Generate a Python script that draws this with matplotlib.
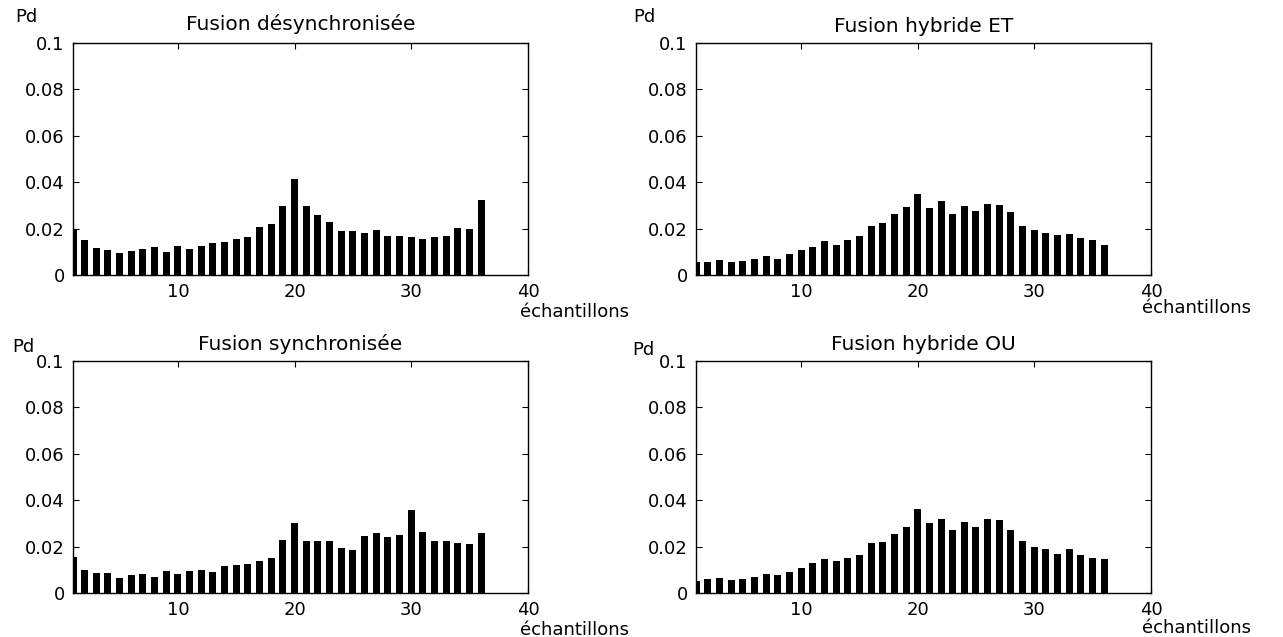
import matplotlib.pyplot as plt
import numpy as np

# échantillons 1..36
samples = np.arange(1, 37)

# Fusion désynchronisée
pd_desync = [0.0200, 0.0150, 0.0117, 0.0107, 0.0096, 0.0103, 0.0113, 0.0120, 0.0099,
             0.0126, 0.0114, 0.0124, 0.0137, 0.0141, 0.0153, 0.0163, 0.0206, 0.0219,
             0.0296, 0.0414, 0.0296, 0.0257, 0.0230, 0.0190, 0.0189, 0.0180, 0.0194,
             0.0167, 0.0167, 0.0164, 0.0154, 0.0163, 0.0167, 0.0203, 0.0199, 0.0323]

# Fusion hybride ET
pd_et = [0.0056, 0.0056, 0.0064, 0.0056, 0.0060, 0.0071, 0.0080, 0.0070, 0.0090,
         0.0107, 0.0120, 0.0146, 0.0130, 0.0151, 0.0169, 0.0213, 0.0223, 0.0263,
         0.0294, 0.0347, 0.0290, 0.0321, 0.0263, 0.0296, 0.0274, 0.0304, 0.0300,
         0.0273, 0.0213, 0.0196, 0.0180, 0.0171, 0.0176, 0.0159, 0.0150, 0.0131]

# Fusion synchronisée
pd_sync = [0.0153, 0.0100, 0.0086, 0.0084, 0.0064, 0.0076, 0.0081, 0.0071, 0.0096,
           0.0081, 0.0096, 0.0101, 0.0090, 0.0116, 0.0119, 0.0124, 0.0139, 0.0151,
           0.0229, 0.0303, 0.0226, 0.0226, 0.0226, 0.0193, 0.0187, 0.0246, 0.0257,
           0.0241, 0.0251, 0.0356, 0.0264, 0.0223, 0.0224, 0.0214, 0.0213, 0.0260]

# Fusion hybride OU
pd_ou = [0.0053, 0.0060, 0.0064, 0.0054, 0.0060, 0.0067, 0.0083, 0.0077, 0.0089,
         0.0107, 0.0130, 0.0146, 0.0137, 0.0150, 0.0163, 0.0217, 0.0219, 0.0254,
         0.0286, 0.0360, 0.0301, 0.0320, 0.0270, 0.0306, 0.0286, 0.0321, 0.0316,
         0.0273, 0.0226, 0.0200, 0.0189, 0.0169, 0.0189, 0.0164, 0.0150, 0.0147]

titles = ['Fusion désynchronisée', 'Fusion hybride ET',
          'Fusion synchronisée', 'Fusion hybride OU']
series = [pd_desync, pd_et, pd_sync, pd_ou]
y_ticks = [0, 0.02, 0.04, 0.06, 0.08, 0.1]
y_tick_labels = ['0', '0.02', '0.04', '0.06', '0.08', '0.1']
x_ticks = [10, 20, 30, 40]

plt.rcParams['font.family'] = 'DejaVu Sans'

fig = plt.figure(figsize=(12.83, 6.37), dpi=100)
fig.patch.set_facecolor('white')

# positions (left, bottom) des 4 axes, en fraction de figure
lefts = [0.0569, 0.5425, 0.0569, 0.5425]
bottoms = [0.5683, 0.5683, 0.0691, 0.0691]
w, h = 0.3546, 0.3642

# position des textes (coordonnées axes)
pd_pos = [(-0.103, 1.112), (-0.114, 1.112), (-0.11, 1.06), (-0.115, 1.047)]
title_y = [1.082, 1.073, 1.073, 1.073]
xlab_pos = [(1.103, -0.16), (1.10, -0.142), (1.103, -0.16), (1.10, -0.15)]

for i in range(4):
    ax = fig.add_axes([lefts[i], bottoms[i], w, h])
    ax.bar(samples, series[i], width=0.6, color='black', edgecolor='none')
    ax.set_xlim(1, 40)
    ax.set_ylim(0, 0.1)
    ax.set_xticks(x_ticks)
    ax.set_yticks(y_ticks)
    ax.set_yticklabels(y_tick_labels)
    ax.tick_params(direction='in', length=4, width=0.8, top=True, right=True,
                   labelsize=13, pad=6)
    for s in ax.spines.values():
        s.set_linewidth(1.0)
        s.set_color('black')
    ax.text(0.5, title_y[i], titles[i], transform=ax.transAxes,
            ha='center', va='center', fontsize=14.5)
    ax.text(pd_pos[i][0], pd_pos[i][1], 'Pd', transform=ax.transAxes,
            ha='center', va='center', fontsize=13)
    ax.text(xlab_pos[i][0], xlab_pos[i][1], 'échantillons', transform=ax.transAxes,
            ha='center', va='center', fontsize=13)

plt.savefig('out.png', dpi=100, facecolor='white')
